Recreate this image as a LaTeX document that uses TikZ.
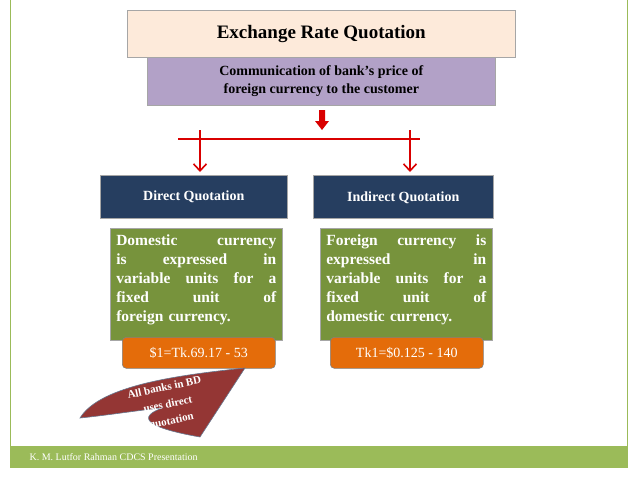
\documentclass[tikz,border=0pt]{standalone}
\usepackage{fontspec}
\setmainfont{Liberation Serif}
\usetikzlibrary{arrows.meta}
\definecolor{title_fill}{RGB}{253,234,218}
\definecolor{sub_fill}{RGB}{178,161,199}
\definecolor{head_blue}{RGB}{38,62,96}
\definecolor{body_green}{RGB}{119,147,60}
\definecolor{rate_orange}{RGB}{228,108,10}
\definecolor{flag_red}{RGB}{148,54,52}
\definecolor{frame_green}{RGB}{155,187,89}
\newcommand{\jline}[1]{\leavevmode\hbox to 160pt{#1}}
\begin{document}
\begin{tikzpicture}[x=1pt,y=-1pt,semithick]
    \tikzstyle{box}=[draw=gray!70, inner sep=0pt, anchor=north west]
    \tikzstyle{head}=[box, fill=head_blue, text=white, font=\bfseries\fontsize{14}{16}\selectfont]
    \tikzstyle{body}=[box, fill=body_green, minimum width=172pt, minimum height=112pt]
    \tikzstyle{bodytext}=[anchor=north, text=white, font=\bfseries\fontsize{15.5}{19}\selectfont, align=left, text width=160pt, inner sep=0pt]
    \tikzstyle{rate}=[draw=gray, fill=rate_orange, rounded corners=4pt, text=white, anchor=north west, font=\fontsize{14}{16}\selectfont]
    \tikzstyle{link}=[red!85!black, line width=1.6pt]
    \useasboundingbox (0,0) rectangle (638,479);
    % frame and footer
    \draw[frame_green] (10,0) -- (10,467) -- (627,467) -- (627,0);
    \fill[frame_green] (10,446) rectangle (627,467);
    \node[anchor=west, text=white, font=\fontsize{10}{11}\selectfont] (foot) at (26,457) {K. M. Lutfor Rahman CDCS Presentation};
    % header
    \node[box, fill=title_fill, minimum width=388pt, minimum height=47pt, font=\bfseries\fontsize{19}{22}\selectfont] (T) at (127,10) {Exchange Rate Quotation};
    \node[box, fill=sub_fill, minimum width=348pt, minimum height=48pt, align=center, font=\bfseries\fontsize{14}{18}\selectfont] (S) at (147,57) {Communication of bank’s price of\\foreign currency to the customer};
    % arrows
    \fill[red!85!black] (319,110) rectangle (325,121) -- (315,121) -- (322,130) -- (329,121) -- cycle;
    \draw[link] (178,139) -- (420,139);
    \draw[link, -{Straight Barb[length=7pt,width=13pt]}] (200,130) -- (200,172);
    \draw[link, -{Straight Barb[length=7pt,width=13pt]}] (410,130) -- (410,172);
    % quotations
    \node[head, minimum width=187pt, minimum height=43pt] (D) at (100,175) {Direct Quotation};
    \node[head, minimum width=180pt, minimum height=43pt, text depth=-12pt] (I) at (313,175) {Indirect Quotation};
    \node[body] (Db) at (110,228) {};
    \node[body] (Ib) at (320,228) {};
    \node[bodytext] (Dt) at ([yshift=-6pt]Db.north) {\jline{Domestic\hfill currency}\\\jline{is\hfill expressed\hfill in}\\\jline{variable\hfill units\hfill for\hfill a}\\\jline{fixed\hfill unit\hfill of}\\foreign currency.};
    \node[bodytext] (It) at ([yshift=-6pt]Ib.north) {\jline{Foreign\hfill currency\hfill is}\\\jline{expressed\hfill in}\\\jline{variable\hfill units\hfill for\hfill a}\\\jline{fixed\hfill unit\hfill of}\\domestic currency.};
    \node[rate, minimum width=153pt, minimum height=31pt] (Dr) at (122,337) {\$1=Tk.69.17 - 53};
    \node[rate, minimum width=153pt, minimum height=31pt] (Ir) at (330,337) {Tk1=\$0.125 - 140};
    % banner
    \fill[flag_red, draw=head_blue!70] (80,418) .. controls (100,385) and (180,375) .. (245,368)
      -- (200,437) .. controls (160,430) and (130,420) .. (162,408)
      .. controls (140,410) and (110,415) .. cycle;
    \node[rotate=12, text=white, align=center, font=\bfseries\fontsize{11}{17}\selectfont] (B) at (168,405) {All banks in BD\\uses direct\\quotation};
\end{tikzpicture}
\end{document}
